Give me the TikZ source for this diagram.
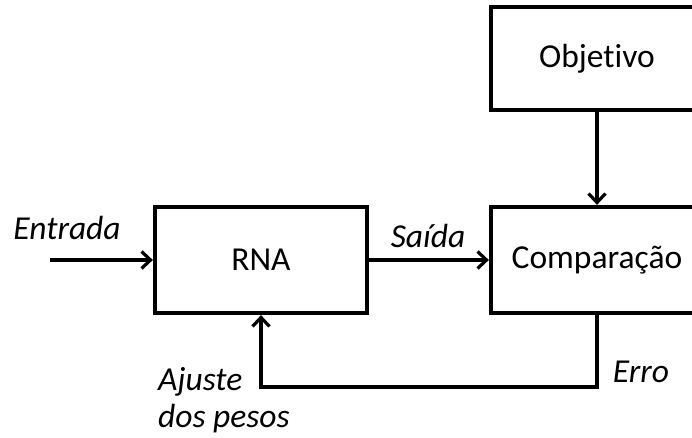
\documentclass[tikz,border=0pt]{standalone}
\usepackage{fontspec}
\setmainfont[Ligatures={NoCommon}]{Carlito}
\usetikzlibrary{arrows.meta}
\begin{document}
\begin{tikzpicture}[x=1pt,y=-1pt,
  blk/.style={draw,line width=4.3pt,minimum width=212pt,minimum height=106pt,inner sep=0pt,font=\fontsize{33.5}{40}\selectfont},
  lbl/.style={font=\fontsize{33.5}{40}\selectfont\itshape,inner sep=0pt},
  conn/.style={line width=3.2pt,-{Straight Barb[length=9pt,width=17pt,line width=3.2pt]}}]
\useasboundingbox (0,0) rectangle (692,438);
\clip (0,0) rectangle (692,438);
\node[blk] (rna) at (261,260) {RNA};
\node[blk] (comp) at (597,260) {Comparação};
\node[blk,minimum height=103pt] (obj) at (597,58.5) {Objetivo};
\coordinate (inp) at (50,260);
\coordinate (fb) at (597,387);
\draw[conn] (inp) -- (rna.west);
\draw[conn] (rna.east) -- (comp.west);
\draw[conn] (obj.south) -- (comp.north);
\draw[conn] (comp.south) -- (fb) -| (rna.south);
\node[lbl] (entrada) at (67,228) {Entrada};
\node[lbl] (saida) at (428,236) {Saída};
\node[lbl] (erro) at (641,372) {Erro};
\node[lbl,anchor=west,align=left] (ajuste) at (158,400) {Ajuste\\[-3pt]dos pesos};
\end{tikzpicture}
\end{document}
